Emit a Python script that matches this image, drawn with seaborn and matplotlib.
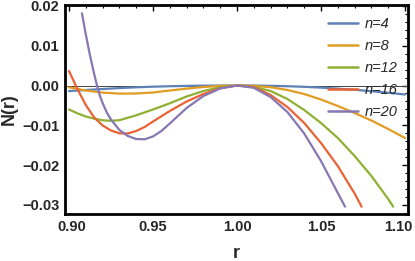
import numpy as np
import pandas as pd
import matplotlib
matplotlib.use("Agg")
import matplotlib.pyplot as plt
import matplotlib.transforms as mtransforms
import seaborn as sns
from matplotlib.ticker import MultipleLocator, FuncFormatter

# ---- data ----
labels = ["n=4", "n=8", "n=12", "n=16", "n=20"]
colors = ["#5E81B5", "#E19C24", "#8FB032", "#EB6235", "#8778B3"]

r_grid = [0.90, 0.91, 0.92, 0.93, 0.94, 0.95, 0.96, 0.97, 0.98, 0.99, 1.00,
          1.01, 1.02, 1.03, 1.04, 1.05, 1.06, 1.07, 1.08, 1.09, 1.10]

r_n4 = r_grid
N_n4 = [-0.00140, -0.00113, -0.00088, -0.00065, -0.00045, -0.00030, -0.00018,
        -0.00010, -0.00004, -0.00001, 0.0, -0.00001, -0.00008, -0.00018,
        -0.00033, -0.00053, -0.00078, -0.00108, -0.00143, -0.00182, -0.00226]

r_n8 = r_grid
N_n8 = [-0.00045, -0.00126, -0.00178, -0.00204, -0.00201, -0.00176, -0.00126,
        -0.00078, -0.00038, -0.00010, 0.0, -0.00010, -0.00043, -0.00113,
        -0.00214, -0.00352, -0.00515, -0.00691, -0.00879, -0.01093, -0.01319]

r_n12 = [0.900, 0.905, 0.910, 0.915, 0.920, 0.925, 0.930, 0.940, 0.950, 0.960,
         0.970, 0.980, 0.990, 1.000, 1.010, 1.020, 1.030, 1.040, 1.050, 1.060,
         1.070, 1.080, 1.090, 1.093]
N_n12 = [-0.00603, -0.00698, -0.00779, -0.00834, -0.00874, -0.00887, -0.00872,
         -0.00749, -0.00603, -0.00447, -0.00276, -0.00138, -0.00043, 0.0,
         -0.00033, -0.00138, -0.00339, -0.00616, -0.00942, -0.01319, -0.01771,
         -0.02274, -0.02852, -0.03045]

r_n16 = [0.900, 0.905, 0.910, 0.915, 0.920, 0.925, 0.930, 0.935, 0.940, 0.945,
         0.950, 0.960, 0.970, 0.980, 0.990, 1.000, 1.010, 1.020, 1.030, 1.040,
         1.050, 1.060, 1.070, 1.0742]
N_n16 = [0.00364, -0.00088, -0.00490, -0.00804, -0.01005, -0.01131, -0.01201,
         -0.01206, -0.01143, -0.01043, -0.00905, -0.00641, -0.00402, -0.00214,
         -0.00068, 0.0, -0.00038, -0.00239, -0.00540, -0.00942, -0.01445,
         -0.02023, -0.02714, -0.03045]

r_n20 = [0.9077, 0.910, 0.9125, 0.915, 0.91667, 0.91845, 0.920, 0.9225, 0.925,
         0.930, 0.935, 0.940, 0.945, 0.950, 0.955, 0.960, 0.970, 0.980, 0.990,
         1.000, 1.010, 1.020, 1.030, 1.040, 1.050, 1.060, 1.0643]
N_n20 = [0.01814, 0.01284, 0.00756, 0.00286, 0.0, -0.00264, -0.00440, -0.00678,
         -0.00854, -0.01118, -0.01269, -0.01344, -0.01352, -0.01281, -0.01143,
         -0.00955, -0.00565, -0.00264, -0.00075, 0.0, -0.00058, -0.00289,
         -0.00666, -0.01206, -0.01897, -0.02701, -0.03045]

x_ticks = [0.90, 0.95, 1.00, 1.05, 1.10]
y_ticks = [-0.03, -0.02, -0.01, 0.00, 0.01, 0.02]

frames = []
for lab, rr, nn in zip(labels, [r_n4, r_n8, r_n12, r_n16, r_n20],
                       [N_n4, N_n8, N_n12, N_n16, N_n20]):
    frames.append(pd.DataFrame({"r": rr, "N": nn, "n": lab}))
df = pd.concat(frames, ignore_index=True)

# ---- plot ----
sns.set_style("white")
plt.rcParams["font.family"] = ["Liberation Sans", "DejaVu Sans"]

fig = plt.figure(figsize=(4.15, 2.61), dpi=100)
ax = fig.add_axes([65 / 415, 47 / 261, 343 / 415, 209 / 261])

ax.axhline(0, color="#444444", lw=0.7, zorder=1.5)
sns.lineplot(data=df, x="r", y="N", hue="n", hue_order=labels,
             palette=colors, estimator=None, sort=False, lw=1.6, ax=ax,
             zorder=2)

ax.set_xlim(0.89762, 1.10179)
ax.set_ylim(-0.03229, 0.02023)
ax.set_xticks(x_ticks)
ax.set_yticks(y_ticks)
ax.xaxis.set_minor_locator(MultipleLocator(0.01))
ax.yaxis.set_minor_locator(MultipleLocator(0.002))
ax.xaxis.set_major_formatter(FuncFormatter(lambda v, p: f"{v:.2f}"))
ax.yaxis.set_major_formatter(
    FuncFormatter(lambda v, p: f"{v:.2f}".replace("-", "\u2212") if abs(v) > 1e-9 else "0.00"))

ax.tick_params(which="both", direction="in", top=True, right=True,
               labelsize=10.5, pad=4, color="black")
ax.tick_params(which="major", length=4, width=1.0)
ax.tick_params(which="minor", length=2.2, width=0.8)
for t in ax.get_xticklabels() + ax.get_yticklabels():
    t.set_fontweight("bold")
for s in ax.spines.values():
    s.set_linewidth(2.0)
    s.set_color("black")

# nudge the outermost x tick labels inward (as in the reference)
xt = ax.get_xticklabels()
xt[0].set_transform(xt[0].get_transform() +
                    mtransforms.ScaledTranslation(3 / 100, 0, fig.dpi_scale_trans))
xt[-1].set_transform(xt[-1].get_transform() +
                     mtransforms.ScaledTranslation(-7 / 100, 0, fig.dpi_scale_trans))

ax.set_xlabel("r", fontsize=13, fontweight="bold", labelpad=8)
ax.set_ylabel("N(r)", fontsize=13, fontweight="bold", labelpad=3)

handles, labs = ax.get_legend_handles_labels()
leg = ax.legend(handles, labs, loc="upper right", frameon=False,
                prop={"style": "italic", "size": 10.5},
                handlelength=2.0, labelspacing=0.55, handletextpad=0.5,
                borderaxespad=0.3, bbox_to_anchor=(1.0, 0.99))
for h in leg.get_lines():
    h.set_linewidth(1.8)

fig.savefig("out.png", dpi=100)
